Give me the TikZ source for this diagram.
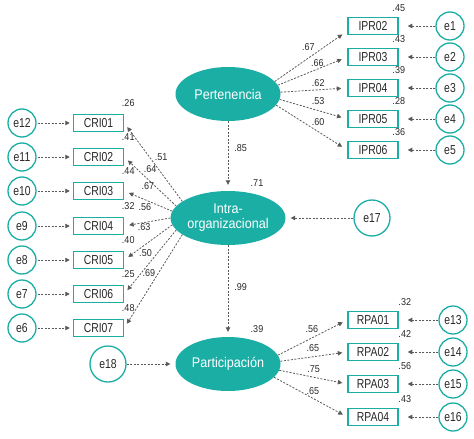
\documentclass[tikz,border=0pt]{standalone}
\usepackage{fontspec}
\setmainfont{Liberation Sans}[FakeStretch=0.8]
\newfontfamily\widefont{Liberation Sans}[FakeStretch=0.9]
\usetikzlibrary{arrows.meta,shapes.geometric}
\definecolor{sem}{RGB}{27,174,165}
\definecolor{pathgray}{RGB}{90,90,90}
\definecolor{ink}{RGB}{40,40,40}

\begin{document}
\begin{tikzpicture}
        [x=1pt, y=-1pt,
        latent/.style={ellipse, fill=sem, text=white, minimum width=105pt, minimum height=54pt, inner sep=0pt, align=center, font=\widefont\fontsize{14}{15}\selectfont},
        item/.style={rectangle, draw=sem, line width=1.5pt, minimum width=50pt, minimum height=17pt, inner sep=0pt, text=ink, font=\fontsize{13}{13}\selectfont},
        err/.style={circle, draw=sem, line width=1.3pt, minimum size=28pt, inner sep=0pt, text=ink, font=\fontsize{13}{13}\selectfont},
        bigerr/.style={err, minimum size=36pt},
        link/.style={pathgray, line width=0.8pt, dash pattern=on 2pt off 1.5pt, -{Triangle[length=4.5pt, width=4.5pt]}},
        coef/.style={text=ink, font=\widefont\fontsize{10}{10}\selectfont, inner sep=1pt},
        sq/.style={coef, anchor=south, yshift=4pt}]

        \useasboundingbox (0,0) rectangle (474,439);

        % latent variables
        \node[latent] (pert) at (228,94) {Pertenencia};
        \node[latent, label={[sq, xshift=29pt, yshift=-1pt]north:.71}] (intra) at (228,218) {Intra-\\organizacional};
        \node[latent, label={[sq, xshift=29pt, yshift=-1pt]north:.39}] (part) at (228,364) {Participación};

        % items
        \node[item, label={[sq]north east:.45}] (ipr2) at (373,26) {IPR02};
        \node[item, label={[sq]north east:.43}] (ipr3) at (373,57) {IPR03};
        \node[item, label={[sq]north east:.39}] (ipr4) at (373,88) {IPR04};
        \node[item, label={[sq]north east:.28}] (ipr5) at (373,119) {IPR05};
        \node[item, label={[sq]north east:.36}] (ipr6) at (373,150) {IPR06};

        \node[item, label={[sq, xshift=4pt, yshift=2pt]north east:.26}] (cri1) at (98.5,123) {CRI01};
        \node[item, label={[sq, xshift=4pt, yshift=2pt]north east:.41}] (cri2) at (98.5,157) {CRI02};
        \node[item, label={[sq, xshift=4pt, yshift=2pt]north east:.44}] (cri3) at (98.5,191) {CRI03};
        \node[item, label={[sq, xshift=4pt, yshift=2pt]north east:.32}] (cri4) at (98.5,226) {CRI04};
        \node[item, label={[sq, xshift=4pt, yshift=2pt]north east:.40}] (cri5) at (98.5,260) {CRI05};
        \node[item, label={[sq, xshift=4pt, yshift=2pt]north east:.25}] (cri6) at (98.5,294) {CRI06};
        \node[item, label={[sq, xshift=4pt, yshift=2pt]north east:.48}] (cri7) at (98.5,328) {CRI07};

        \node[item, label={[sq, xshift=6pt]north east:.32}] (rpa1) at (373,320) {RPA01};
        \node[item, label={[sq, xshift=6pt]north east:.42}] (rpa2) at (373,352) {RPA02};
        \node[item, label={[sq, xshift=6pt]north east:.56}] (rpa3) at (373,384) {RPA03};
        \node[item, label={[sq, xshift=6pt]north east:.43}] (rpa4) at (373,417) {RPA04};

        % errors
        \node[err] (e1) at (450,26) {e1};
        \node[err] (e2) at (450,57) {e2};
        \node[err] (e3) at (450,88) {e3};
        \node[err] (e4) at (450,119) {e4};
        \node[err] (e5) at (450,150) {e5};

        \node[err] (e12) at (22,123) {e12};
        \node[err] (e11) at (22,157) {e11};
        \node[err] (e10) at (22,191) {e10};
        \node[err] (e9) at (22,226) {e9};
        \node[err] (e8) at (22,260) {e8};
        \node[err] (e7) at (22,294) {e7};
        \node[err] (e6) at (22,328) {e6};

        \node[err] (e13) at (453,320) {e13};
        \node[err] (e14) at (453,352) {e14};
        \node[err] (e15) at (453,384) {e15};
        \node[err] (e16) at (453,417) {e16};

        \node[bigerr] (e17) at (372,218) {e17};
        \node[bigerr] (e18) at (108,364) {e18};

        % structural paths
        \draw[link, shorten >=6pt] (pert) -- (intra) node[coef, pos=.386, right=5pt] {.85};
        \draw[link, shorten >=5pt] (intra) -- (part) node[coef, pos=.457, right=5pt] {.99};
        \draw[link, shorten >=5pt] (e17) -- (intra);
        \draw[link, shorten >=5pt] (e18) -- (part);

        % loadings
        \draw[link, shorten >=6pt] (pert.15) -- ([yshift=-5pt]ipr2.west) node[coef, pos=.465, above=5.8pt] {.67};
        \draw[link, shorten >=6pt] (pert.10) -- (ipr3.west) node[coef, pos=.568, above=0.9pt] {.66};
        \draw[link, shorten >=6pt] (pert.2) -- (ipr4.west) node[coef, pos=.565, above=1.5pt] {.62};
        \draw[link, shorten >=6pt] (pert.-6) -- (ipr5.west) node[coef, pos=.571, above=4.3pt] {.53};
        \draw[link, shorten >=6pt] (pert.-13) -- (ipr6.west) node[coef, pos=.592, above=4.3pt] {.60};

        \draw[link, shorten >=5pt] (intra.160) -- (cri1.east) node[coef, pos=.365, above=11pt] {.51};
        \draw[link, shorten >=5pt] (intra.167) -- (cri2.east) node[coef, pos=.503, above=7.6pt] {.64};
        \draw[link, shorten >=5pt] (intra.173) -- (cri3.east) node[coef, pos=.509, above=9.9pt] {.67};
        \draw[link, shorten >=5pt] (intra.180) -- (cri4.east) node[coef, pos=.553, above=10.1pt] {.56};
        \draw[link, shorten >=5pt] (intra.187) -- (cri5.east) node[coef, pos=.585, above=13pt] {.63};
        \draw[link, shorten >=5pt] (intra.193) -- (cri6.east) node[coef, pos=.591, above=10.1pt] {.50};
        \draw[link, shorten >=5pt] (intra.200) -- (cri7.east) node[coef, pos=.577, above=10.7pt] {.69};

        \draw[link, shorten >=5pt] (part.10) -- (rpa1.west) node[coef, pos=.489, above=3.9pt] {.56};
        \draw[link, shorten >=5pt] (part.3) -- (rpa2.west) node[coef, pos=.487, above=3.5pt] {.65};
        \draw[link, shorten >=5pt] (part.-7) -- (rpa3.west) node[coef, pos=.507, above=2.9pt] {.75};
        \draw[link, shorten >=5pt] (part.-16) -- (rpa4.west) node[coef, pos=.529, above=2.2pt] {.65};

        % error terms
        \draw[link, shorten >=9pt] (e1) -- (ipr2);
        \draw[link, shorten >=9pt] (e2) -- (ipr3);
        \draw[link, shorten >=9pt] (e3) -- (ipr4);
        \draw[link, shorten >=9pt] (e4) -- (ipr5);
        \draw[link, shorten >=9pt] (e5) -- (ipr6);

        \draw[link, shorten <=1pt, shorten >=3pt] (e12) -- (cri1);
        \draw[link, shorten <=1pt, shorten >=3pt] (e11) -- (cri2);
        \draw[link, shorten <=1pt, shorten >=3pt] (e10) -- (cri3);
        \draw[link, shorten <=1pt, shorten >=3pt] (e9) -- (cri4);
        \draw[link, shorten <=1pt, shorten >=3pt] (e8) -- (cri5);
        \draw[link, shorten <=1pt, shorten >=3pt] (e7) -- (cri6);
        \draw[link, shorten <=1pt, shorten >=3pt] (e6) -- (cri7);

        \draw[link, shorten >=9pt] (e13) -- (rpa1);
        \draw[link, shorten >=9pt] (e14) -- (rpa2);
        \draw[link, shorten >=9pt] (e15) -- (rpa3);
        \draw[link, shorten >=9pt] (e16) -- (rpa4);

    \end{tikzpicture}
\end{document}
